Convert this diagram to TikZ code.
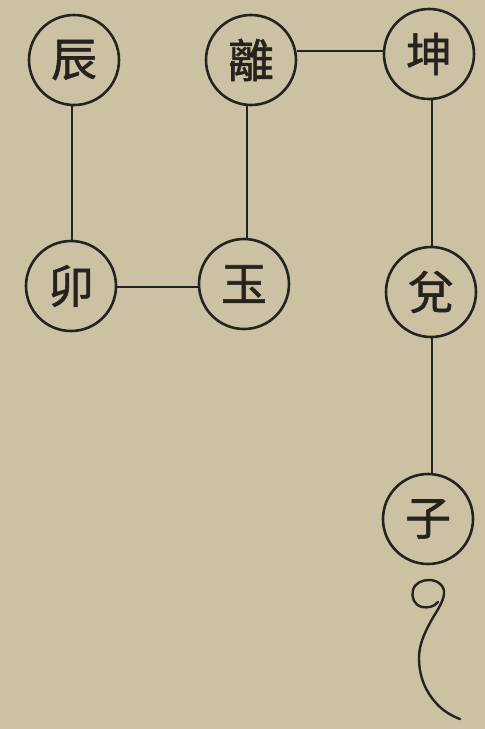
\documentclass[tikz,border=0pt]{standalone}
\usepackage{fontspec}
\newfontfamily\cjk[FakeBold=1.2]{Noto Sans CJK TC}
\definecolor{paper}{RGB}{204,194,163}
\definecolor{ink}{RGB}{38,34,30}
\begin{document}
\begin{tikzpicture}[x=1pt,y=-1pt,
  gua/.style={circle,draw=ink,line width=2.6pt,minimum size=90pt,inner sep=0pt,
    font=\cjk\fontsize{46}{46}\selectfont,text=ink},
  link/.style={draw=ink,line width=1.4pt}]
\fill[paper] (0,0) rectangle (485,729);
\useasboundingbox (0,0) rectangle (485,729);
\node[gua] (chen) at (74,60) {辰};
\node[gua] (li) at (251,60) {離};
\node[gua] (kun) at (429,54) {坤};
\node[gua] (mao) at (71,286) {卯};
\node[gua] (yu) at (244,284) {玉};
\node[gua] (dui) at (431,292) {兌};
\node[gua] (zi) at (428,519) {子};
\coordinate (tail) at (438,602);
\path[link] (chen.south -| 72,0) -- (mao.north -| 72,0);
\path[link] (li.south -| 247,0) -- (yu.north -| 247,0);
\path[link] (mao.east |- 0,287) -- (yu.west |- 0,287);
\path[link] (li.east |- 0,51) -- (kun.west |- 0,51);
\path[link] (kun.south -| 432,0) -- (dui.north -| 432,0);
\path[link] (dui.south -| 432,0) -- (zi.north -| 432,0);
\draw[ink,line width=2.4pt,line cap=round]
  (tail) .. controls (434,607) and (428,608) .. (422,607)
  .. controls (414,605) and (411,597) .. (413,590)
  .. controls (415,583) and (422,580) .. (429,580)
  .. controls (438,580) and (445,586) .. (444,594)
  .. controls (443,603) and (436,612) .. (431,621)
  .. controls (424,634) and (419,645) .. (419,658)
  .. controls (419,677) and (426,692) .. (436,703)
  .. controls (443,711) and (452,716) .. (460,719);
\end{tikzpicture}
\end{document}
